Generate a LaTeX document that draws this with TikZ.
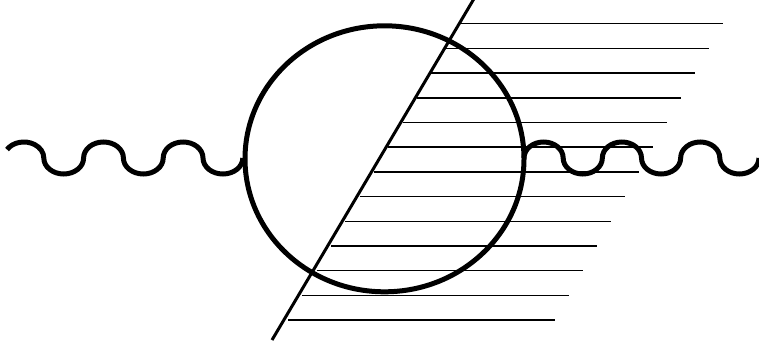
\documentclass[tikz,border=0pt]{standalone}
\begin{document}
\begin{tikzpicture}[x=1pt,y=1pt,
  thick line/.style={line width=5pt},
  hatch/.style={line width=1.5pt},
  cut/.style={line width=3pt}]
\useasboundingbox (0,0) rectangle (759,349);
% hatching lines
\foreach \i in {0,...,12}{
  \draw[hatch] ({460-14.33*\i},{349-23.7-24.7*\i}) -- ({723-14*\i},{349-23.7-24.7*\i});
}
% diagonal cut line
\coordinate (d1) at (272,9);
\coordinate (d2) at (475,352);
\draw[cut] (d1) -- (d2);
% circle (loop)
\coordinate (c) at (384.5,190.2);
\draw[thick line] (c) ellipse [x radius=139.5, y radius=133];
% left wave
\draw[thick line] (23.9,191) ++(148:19.9 and 16)
  arc[start angle=148,end angle=0,x radius=19.9,y radius=16]
  arc[start angle=180,end angle=360,x radius=19.9,y radius=16]
  arc[start angle=180,end angle=0,x radius=19.9,y radius=16]
  arc[start angle=180,end angle=360,x radius=19.9,y radius=16]
  arc[start angle=180,end angle=0,x radius=19.9,y radius=16]
  arc[start angle=180,end angle=360,x radius=19.9,y radius=16];
% right wave
\draw[thick line] (524,191)
  arc[start angle=180,end angle=0,x radius=19.58,y radius=16]
  arc[start angle=180,end angle=360,x radius=19.58,y radius=16]
  arc[start angle=180,end angle=0,x radius=19.58,y radius=16]
  arc[start angle=180,end angle=360,x radius=19.58,y radius=16]
  arc[start angle=180,end angle=0,x radius=19.58,y radius=16]
  arc[start angle=180,end angle=360,x radius=19.58,y radius=16];
\end{tikzpicture}
\end{document}
